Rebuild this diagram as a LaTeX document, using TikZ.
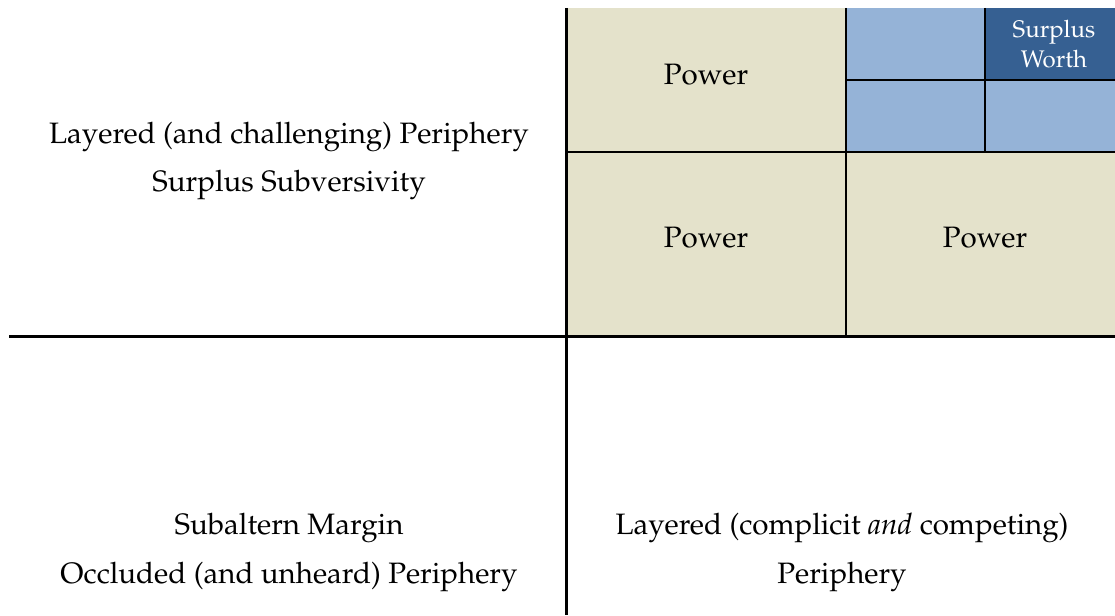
\documentclass[tikz,border=0pt]{standalone}
\usepackage[T1]{fontenc}
\usepackage{palatino}
\definecolor{beige}{HTML}{E4E2CB}
\definecolor{lblue}{HTML}{95B3D7}
\definecolor{dblue}{HTML}{366092}
\begin{document}
\begin{tikzpicture}[x=1pt,y=-1pt,
  rule/.style={line width=2.5pt,black},
  lbl/.style={font=\fontsize{29.5}{34}\selectfont,inner sep=0pt},
  small/.style={font=\fontsize{24}{30}\selectfont,text=white,align=center,inner sep=0pt}]
\useasboundingbox (0,0) rectangle (1115,615);
% fills
\fill[beige] (567,8) rectangle (1115,336);
\fill[lblue] (846,8) rectangle (1115,152);
\fill[dblue] (985,8) rectangle (1115,80);
% named corners
\coordinate (vt) at (566.5,8);
\coordinate (vb) at (566.5,615);
\coordinate (hl) at (9,336.5);
\coordinate (hr) at (1115,336.5);
\coordinate (p1t) at (846,8);
\coordinate (p1b) at (846,336);
\coordinate (p2l) at (567,152);
\coordinate (p2r) at (1115,152);
\coordinate (b1t) at (985,8);
\coordinate (b1b) at (985,152);
\coordinate (b2l) at (846,80);
\coordinate (b2r) at (1115,80);
% lines
\draw[rule] (vt) -- (vb);
\draw[rule] (hl) -- (hr);
\draw[rule] (p1t) -- (p1b);
\draw[rule] (p2l) -- (p2r);
\draw[rule] (b1t) -- (b1b);
\draw[rule] (b2l) -- (b2r);
% texts
\node[lbl] (pw1) at (706,75) {Power};
\node[lbl] (pw2) at (706,238) {Power};
\node[lbl] (pw3) at (985,238) {Power};
\node[small] (sw) at (1054,44) {Surplus\\Worth};
\node[lbl] (tl1) at (289,137) {Layered (and challenging) Periphery};
\node[lbl] (tl2) at (289,185) {Surplus Subversivity};
\node[lbl] (bl1) at (289,528) {Subaltern Margin};
\node[lbl] (bl2) at (289,577) {Occluded (and unheard) Periphery};
\node[lbl] (br1) at (842,528) {Layered (complicit \emph{and} competing)};
\node[lbl] (br2) at (842,577) {Periphery};
\end{tikzpicture}
\end{document}
